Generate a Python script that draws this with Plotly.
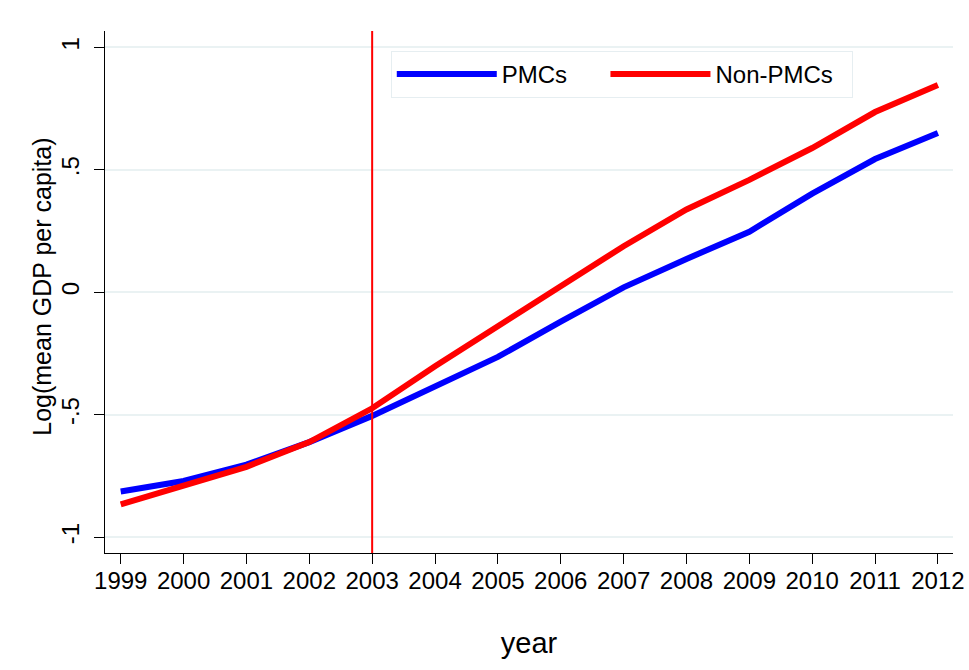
import plotly.graph_objects as go

years = [1999, 2000, 2001, 2002, 2003, 2004, 2005, 2006, 2007, 2008, 2009, 2010, 2011, 2012]
pmcs = [-0.814, -0.771, -0.704, -0.612, -0.505, -0.383, -0.264, -0.12, 0.02, 0.136, 0.247, 0.403, 0.544, 0.65]
non_pmcs = [-0.866, -0.790, -0.713, -0.612, -0.474, -0.302, -0.138, 0.031, 0.188, 0.338, 0.459, 0.589, 0.736, 0.846]
ytick_vals = [-1, -0.5, 0, 0.5, 1]
ytick_text = ["-1", "-.5", "0", ".5", "1"]
series_names = ["PMCs", "Non-PMCs"]
vline_year = 2003
x_title = "year"
y_title = "Log(mean GDP per capita)"

FONT = "Liberation Sans, Arial, sans-serif"
GRID = "#eaf2f3"
NB = "\u00a0"

fig = go.Figure()
fig.add_trace(go.Scatter(x=years, y=pmcs, mode="lines", name=series_names[0] + NB * 5,
                         line=dict(color="#0000ff", width=6)))
fig.add_trace(go.Scatter(x=years, y=non_pmcs, mode="lines", name=series_names[1] + NB * 2,
                         line=dict(color="#ff0000", width=6)))

fig.add_vline(x=vline_year, line=dict(color="#ff0000", width=2), layer="above")

fig.add_annotation(text=y_title, textangle=-90, xref="paper", yref="paper",
                   x=-0.0743, y=0.51, xanchor="center", yanchor="middle",
                   showarrow=False, font=dict(size=25, family=FONT, color="black"))

fig.update_layout(
    width=969, height=670,
    margin=dict(l=105, r=16, t=31, b=117, autoexpand=False),
    paper_bgcolor="white", plot_bgcolor="white",
    font=dict(family=FONT, size=24, color="black"),
    showlegend=True,
    legend=dict(
        orientation="h",
        x=0.337, y=0.962, xanchor="left", yanchor="top",
        bordercolor="#e6eef1", borderwidth=1,
        bgcolor="white",
        itemwidth=100,
        font=dict(size=24, family=FONT),
        itemclick=False,
    ),
    xaxis=dict(
        range=[1998.75, 2012.24],
        tickmode="array", tickvals=years, ticktext=[str(y) for y in years],
        ticks="outside", ticklen=10, tickwidth=1, tickcolor="black",
        ticklabelstandoff=-4,
        showline=True, linecolor="black", linewidth=1,
        showgrid=False, zeroline=False, automargin=False,
        title=dict(text=x_title, standoff=39),
        tickfont=dict(size=24),
    ),
    yaxis=dict(
        range=[-1.065, 1.067],
        tickmode="array", tickvals=ytick_vals, ticktext=ytick_text,
        tickangle=-90,
        ticks="outside", ticklen=10, tickwidth=1, tickcolor="black",
        ticklabelstandoff=5,
        showline=True, linecolor="black", linewidth=1,
        showgrid=True, gridcolor=GRID, gridwidth=2,
        zeroline=False, automargin=False,
        tickfont=dict(size=24),
    ),
)

fig.write_html("out.html",
               config={"displayModeBar": False},
               post_script="document.body.style.margin='0';document.body.style.overflow='hidden';")
